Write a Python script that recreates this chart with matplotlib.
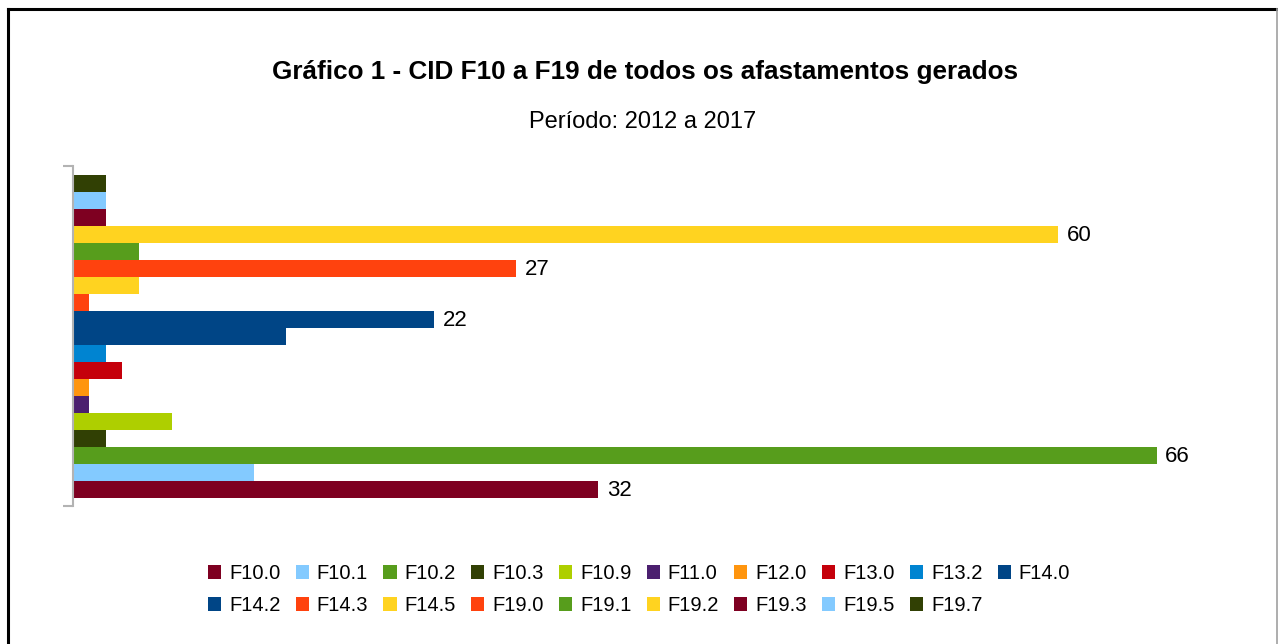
import matplotlib
matplotlib.use("Agg")
import matplotlib.pyplot as plt
from matplotlib.patches import Patch
from matplotlib.lines import Line2D

plt.rcParams['font.family'] = ['Liberation Sans', 'DejaVu Sans']

# ---- data (bottom to top) ----
categories = ["F10.0", "F10.1", "F10.2", "F10.3", "F10.9", "F11.0", "F12.0",
              "F13.0", "F13.2", "F14.0", "F14.2", "F14.3", "F14.5", "F19.0",
              "F19.1", "F19.2", "F19.3", "F19.5", "F19.7"]
values = [32, 11, 66, 2, 6, 1, 1, 3, 2, 13, 22, 1, 4, 27, 4, 60, 2, 2, 2]
labeled = ["F10.0", "F10.2", "F14.2", "F19.0", "F19.2"]
colors = ["#7E0021", "#83CAFF", "#579D1C", "#314004", "#AECF00", "#4B1F6F",
          "#FF950E", "#C5000B", "#0084D1", "#004586", "#004586", "#FF420E",
          "#FFD320", "#FF420E", "#579D1C", "#FFD320", "#7E0021", "#83CAFF",
          "#314004"]
title = "Gráfico 1 - CID F10 a F19 de todos os afastamentos gerados"
subtitle = "Período: 2012 a 2017"

W, H = 1278, 644
fig = plt.figure(figsize=(W / 100, H / 100), dpi=100)
fig.patch.set_facecolor("white")

ax = fig.add_axes([73 / W, 1 - 506 / H, 70 * 16.42 / W, 340 / H])
n = len(categories)
ypos = list(range(n))
bars = ax.barh(ypos, values, height=1.0, color=colors, linewidth=0)
for b, cat, v in zip(bars, categories, values):
    if cat in labeled:
        ax.text(b.get_width() + 0.5, b.get_y() + b.get_height() / 2 - 0.08, str(v),
                va="center", ha="left", fontsize=16, color="black")

ax.set_xlim(0, 70)
ax.set_ylim(-1.0, n)
for s in ["top", "right", "bottom"]:
    ax.spines[s].set_visible(False)
ax.spines["left"].set_color("#b3b3b3")
ax.spines["left"].set_linewidth(1.5)
ax.set_xticks([])
ax.set_yticks([-1.0, n])
ax.set_yticklabels([])
ax.tick_params(axis="y", direction="out", length=7.5, width=1.5, color="#b3b3b3")

fig.text(645 / W, 1 - 72 / H, title, ha="center", va="center",
         fontsize=18.85, fontweight="bold")
fig.text(643 / W, 1 - 122 / H, subtitle, ha="center", va="center",
         fontsize=17)

# legend: row-major layout with 10 columns
handles = [Patch(facecolor=c, edgecolor="none") for c in colors]
order = []
for j in range(10):
    order.append(j)
    if j + 10 < n:
        order.append(j + 10)
leg = fig.legend([handles[i] for i in order], [categories[i] for i in order],
                 ncol=10, loc="center", bbox_to_anchor=(0.5, 1 - 589.5 / H),
                 frameon=False, fontsize=14.5, handlelength=0.65,
                 handleheight=0.65, handletextpad=0.4, columnspacing=0.755,
                 labelspacing=0.65, borderpad=0)

# outer frame
fig.add_artist(Line2D([7.5 / W, 1], [1 - 9 / H, 1 - 9 / H], color="black",
                      lw=2.2, transform=fig.transFigure))
fig.add_artist(Line2D([8 / W, 8 / W], [0, 1 - 9 / H], color="black",
                      lw=2.2, transform=fig.transFigure))
fig.add_artist(Line2D([1277 / W, 1277 / W], [0, 1 - 9 / H], color="#a0a0a0",
                      lw=1.2, transform=fig.transFigure))

fig.savefig("out.png", dpi=100)
